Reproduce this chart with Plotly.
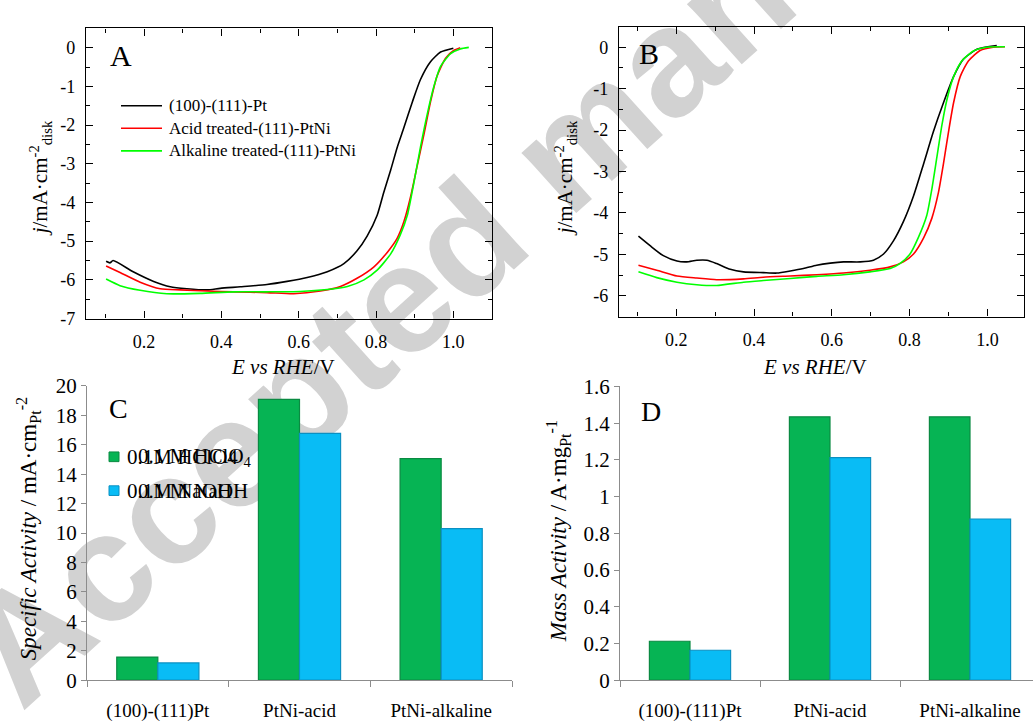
import plotly.graph_objects as go

W, H = 1033, 726
SERIF = "Liberation Serif"

# ---- Panel A: ORR polarisation curves, 0.1 M HClO4 ----
a_pt_E = [0.102, 0.112, 0.120, 0.172, 0.225, 0.268, 0.311, 0.363, 0.397, 0.449, 0.518, 0.570,
          0.622, 0.674, 0.717, 0.751, 0.777, 0.803, 0.820, 0.838, 0.855, 0.872, 0.894, 0.915,
          0.941, 0.967, 1.000]
a_pt_j = [-5.52, -5.56, -5.50, -5.79, -6.04, -6.18, -6.23, -6.26, -6.22, -6.18, -6.12, -6.04,
          -5.94, -5.79, -5.58, -5.25, -4.87, -4.33, -3.74, -3.16, -2.57, -2.07, -1.40, -0.82,
          -0.36, -0.11, -0.01]
a_acid_E = [0.102, 0.138, 0.190, 0.242, 0.294, 0.363, 0.432, 0.518, 0.587, 0.656, 0.708, 0.751,
            0.794, 0.829, 0.855, 0.872, 0.889, 0.906, 0.924, 0.941, 0.958, 0.980, 1.001, 1.018]
a_acid_j = [-5.64, -5.81, -6.06, -6.23, -6.26, -6.29, -6.31, -6.33, -6.36, -6.29, -6.17, -5.96,
            -5.67, -5.29, -4.92, -4.50, -3.87, -3.08, -2.24, -1.40, -0.73, -0.27, -0.07, 0.0]
a_alk_E = [0.102, 0.138, 0.190, 0.259, 0.345, 0.432, 0.518, 0.604, 0.674, 0.726, 0.769, 0.803,
           0.838, 0.863, 0.881, 0.898, 0.915, 0.932, 0.950, 0.967, 0.993, 1.018, 1.040]
a_alk_j = [-5.98, -6.15, -6.27, -6.36, -6.35, -6.31, -6.31, -6.30, -6.25, -6.17, -6.00, -5.75,
           -5.33, -4.83, -4.33, -3.49, -2.57, -1.74, -0.99, -0.48, -0.15, -0.03, 0.01]

# ---- Panel B: ORR polarisation curves, 0.1 M NaOH ----
b_pt_E = [0.103, 0.133, 0.167, 0.202, 0.227, 0.253, 0.279, 0.304, 0.339, 0.373, 0.424, 0.459,
          0.493, 0.527, 0.561, 0.596, 0.630, 0.673, 0.707, 0.733, 0.758, 0.784, 0.810, 0.836,
          0.861, 0.887, 0.913, 0.938, 0.973, 1.024]
b_pt_j = [-4.56, -4.79, -5.03, -5.16, -5.18, -5.14, -5.14, -5.22, -5.36, -5.42, -5.44, -5.45,
          -5.40, -5.34, -5.26, -5.21, -5.18, -5.18, -5.14, -4.99, -4.68, -4.21, -3.59, -2.81,
          -2.04, -1.34, -0.71, -0.29, -0.05, 0.04]
b_acid_E = [0.103, 0.150, 0.202, 0.253, 0.304, 0.373, 0.424, 0.493, 0.561, 0.630, 0.698, 0.750,
            0.784, 0.810, 0.836, 0.857, 0.874, 0.887, 0.900, 0.913, 0.930, 0.951, 0.981, 1.015,
            1.045]
b_acid_j = [-5.26, -5.38, -5.52, -5.57, -5.61, -5.59, -5.55, -5.52, -5.49, -5.45, -5.38, -5.30,
            -5.18, -4.99, -4.60, -4.13, -3.51, -2.81, -2.04, -1.34, -0.71, -0.33, -0.08, 0.0,
            0.01]
b_alk_E = [0.103, 0.150, 0.202, 0.253, 0.304, 0.373, 0.424, 0.493, 0.561, 0.630, 0.698, 0.750,
           0.775, 0.801, 0.822, 0.844, 0.857, 0.870, 0.883, 0.896, 0.913, 0.934, 0.964, 0.998,
           1.045]
b_alk_j = [-5.42, -5.56, -5.67, -5.73, -5.75, -5.67, -5.63, -5.58, -5.53, -5.49, -5.42, -5.34,
           -5.22, -4.99, -4.60, -4.06, -3.43, -2.66, -1.88, -1.26, -0.71, -0.33, -0.09, 0.0,
           0.01]

curve_names = ["(100)-(111)-Pt", "Acid treated-(111)-PtNi", "Alkaline treated-(111)-PtNi"]
curve_colors = ["#000000", "#ff0000", "#00ff00"]

# tick labels (hyphen minus, as typeset on the figure)
a_jticks = [0, -1, -2, -3, -4, -5, -6, -7]
b_jticks = [0, -1, -2, -3, -4, -5, -6]
e_ticks = [0.2, 0.4, 0.6, 0.8, 1.0]

# ---- Panels C and D: activities at 0.9 V ----
catalysts = ["(100)-(111)Pt", "PtNi-acid", "PtNi-alkaline"]
electrolytes = ["0.1 M HClO<sub>4</sub>", "0.1 M NaOH"]
specific_acid = [1.57, 19.08, 15.06]
specific_alk = [1.17, 16.78, 10.30]
mass_acid = [0.212, 1.435, 1.435]
mass_alk = [0.163, 1.212, 0.878]
bar_colors = ["#06b454", "#09bcf5"]
bar_edges = ["#0a8a42", "#0b90c2"]


def px(x):
    return x / W


def py(y):
    return 1 - y / H


fig = go.Figure()

# polarisation curves
for ax, sets in (("x", [(a_pt_E, a_pt_j), (a_acid_E, a_acid_j), (a_alk_E, a_alk_j)]),
                 ("x2", [(b_pt_E, b_pt_j), (b_acid_E, b_acid_j), (b_alk_E, b_alk_j)])):
    yax = "y" if ax == "x" else "y2"
    for (E, j), name, col in zip(sets, curve_names, curve_colors):
        fig.add_trace(go.Scatter(x=E, y=j, mode="lines", name=name, xaxis=ax, yaxis=yax,
                                 line=dict(color=col, width=1.6, shape="spline", smoothing=0.6),
                                 showlegend=False))

# activity bars
for xa, ya, acid, alk in (("x3", "y3", specific_acid, specific_alk),
                          ("x4", "y4", mass_acid, mass_alk)):
    for vals, col, edge, name in zip((acid, alk), bar_colors, bar_edges, electrolytes):
        fig.add_trace(go.Bar(x=catalysts, y=vals, name=name, xaxis=xa, yaxis=ya,
                             marker=dict(color=col, line=dict(color=edge, width=1.2)),
                             showlegend=False))

frame_axis = dict(showline=True, linecolor="black", linewidth=1.3, mirror="allticks",
                  ticks="inside", ticklen=7, tickwidth=1.2, tickcolor="black",
                  showgrid=False, zeroline=False,
                  tickfont=dict(family=SERIF, size=18, color="black"))
bar_x = dict(showline=True, linecolor="#8c8c8c", linewidth=1, ticks="outside",
             tickson="boundaries", ticklen=6, tickcolor="#8c8c8c", showgrid=False,
             ticklabelstandoff=13, tickfont=dict(family=SERIF, size=19, color="black"))
bar_y = dict(showline=True, linecolor="#8c8c8c", linewidth=1, ticks="outside", ticklen=5,
             tickcolor="#8c8c8c", showgrid=False, zeroline=False,
             tickfont=dict(family=SERIF, size=21, color="black"))


def hy(v):
    return [str(t).replace("−", "-") for t in v]


fig.update_layout(
    width=W, height=H, margin=dict(l=0, r=0, t=0, b=0),
    paper_bgcolor="white", plot_bgcolor="rgba(0,0,0,0)",
    barmode="group", bargap=0.42, bargroupgap=0,
    font=dict(family=SERIF, color="black"),
    xaxis=dict(frame_axis, domain=[px(86), px(492)], range=[0.05, 1.1], anchor="y",
               tickvals=e_ticks, ticktext=[f"{v:.1f}" for v in e_ticks], ticklabelstandoff=7,
               minor=dict(ticks="inside", dtick=0.1, tick0=0, ticklen=4, tickcolor="black")),
    yaxis=dict(frame_axis, domain=[py(317), py(17)], range=[-7, 0.5], anchor="x",
               tickvals=a_jticks, ticktext=hy(a_jticks), ticklabelstandoff=6,
               minor=dict(ticks="inside", dtick=0.5, tick0=0, ticklen=4, tickcolor="black")),
    xaxis2=dict(frame_axis, domain=[px(619), px(1024)], range=[0.053, 1.094], anchor="y2",
                tickvals=e_ticks, ticktext=[f"{v:.1f}" for v in e_ticks], ticklabelstandoff=7,
                minor=dict(ticks="inside", dtick=0.1, tick0=0, ticklen=4, tickcolor="black")),
    yaxis2=dict(frame_axis, domain=[py(315), py(15)], range=[-6.5, 0.5], anchor="x2",
                tickvals=b_jticks, ticktext=hy(b_jticks), ticklabelstandoff=6,
                minor=dict(ticks="inside", dtick=0.5, tick0=0, ticklen=4, tickcolor="black")),
    xaxis3=dict(bar_x, domain=[px(87), px(512)], anchor="y3", range=[-0.5, 2.5]),
    yaxis3=dict(bar_y, domain=[py(691), py(386.7)], anchor="x3", range=[0, 20], dtick=2),
    xaxis4=dict(bar_x, domain=[px(620), 1.0], anchor="y4", range=[-0.5, -0.5 + 413 / 140]),
    yaxis4=dict(bar_y, domain=[py(691), py(387.3)], anchor="x4", range=[0, 1.6], dtick=0.2),
)

# watermark behind the plots
fig.add_shape(type="rect", xref="paper", yref="paper", x0=0.3, x1=0.78, y0=0.68, y1=0.96,
              line=dict(width=0), fillcolor="rgba(0,0,0,0)", layer="below",
              label=dict(text="<b>Accepted manuscript</b>", textangle=-42,
                         textposition="middle center",
                         font=dict(family="Liberation Sans", size=154, color="#d2d2d2")))

ann = []


def text(x, y, s, size, xanchor="center", yanchor="middle", angle=0):
    ann.append(dict(x=px(x), y=py(y), xref="paper", yref="paper", text=s, showarrow=False,
                    xanchor=xanchor, yanchor=yanchor, textangle=angle,
                    font=dict(family=SERIF, size=size, color="black")))


# panel letters
text(108, 45, "A", 30, xanchor="left")
text(637, 43, "B", 30, xanchor="left")
text(107, 410, "C", 28, xanchor="left")
text(639, 413, "D", 28, xanchor="left")

# axis titles
text(283, 367, "<i>E vs RHE</i>/V", 21)
text(815, 367, "<i>E vs RHE</i>/V", 21)
text(40, 172, "<i>j</i>/mA·cm<sup>-2</sup><sub>disk</sub>", 21, angle=-90)
text(565, 172, "<i>j</i>/mA·cm<sup>-2</sup><sub>disk</sub>", 21, angle=-90)
text(28, 535, "<i>Specific Activity</i> / mA·cm<sub>Pt</sub><sup>-2</sup>", 23, angle=-90)
text(558, 537, "<i>Mass Activity</i> / A·mg<sub>Pt</sub><sup>-1</sup>", 23, angle=-90)

# legend of panel A
for k, (name, col) in enumerate(zip(curve_names, curve_colors)):
    yy = 97 + 23.3 * k
    fig.add_shape(type="line", xref="paper", yref="paper", x0=px(121), x1=px(162),
                  y0=py(yy), y1=py(yy), line=dict(color=col, width=1.6))
    text(167, yy, name, 17, xanchor="left")

# legend of panel C (two overlaid label strings per entry)
for k, (col, edge, lab_a, lab_b) in enumerate(zip(
        bar_colors, bar_edges, ["0.1M HClO4", "0.1M NaOH"], electrolytes)):
    yy = 460 + 35 * k
    fig.add_shape(type="rect", xref="paper", yref="paper", x0=px(109), x1=px(119),
                  y0=py(yy + 5), y1=py(yy - 5), fillcolor=col, line=dict(color=edge, width=1))
    text(125, yy, lab_a, 21, xanchor="left")
    text(136, yy, lab_b, 21, xanchor="left")

fig.update_layout(annotations=ann)
fig.write_html("out.html")
